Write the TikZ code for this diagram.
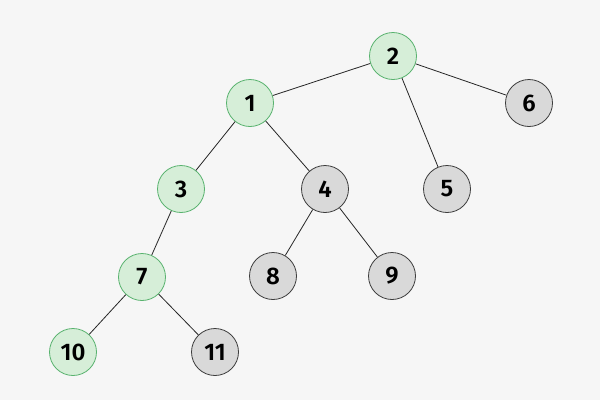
\documentclass[tikz,border=0pt]{standalone}
\usepackage{fontspec}
\setmainfont{Fira Sans}[UprightFont=* SemiBold]
\definecolor{gfill}{RGB}{214,238,216}
\definecolor{gline}{RGB}{88,178,110}
\definecolor{kfill}{RGB}{217,217,217}
\definecolor{kline}{RGB}{60,60,60}
\definecolor{bgc}{RGB}{246,246,246}
\begin{document}
\begin{tikzpicture}[x=1pt,y=-1pt,
  base/.style={circle,minimum size=47pt,inner sep=0pt,line width=0.8pt,font=\fontsize{24}{24}\selectfont},
  gnode/.style={base,draw=gline,fill=gfill},
  knode/.style={base,draw=kline,fill=kfill},
  edge/.style={draw=black!85,line width=0.8pt}]
\fill[bgc] (0,0) rectangle (600,400);
\useasboundingbox (0,0) rectangle (600,400);
\node[gnode] (n2) at (393,56) {2};
\node[knode] (n6) at (529,103) {6};
\node[gnode] (n1) at (250,103) {1};
\node[knode] (n5) at (447,189) {5};
\node[gnode] (n3) at (181,189) {3};
\node[knode] (n4) at (325,189) {4};
\node[gnode] (n7) at (142,277) {7};
\node[knode] (n8) at (273,276) {8};
\node[knode] (n9) at (392,276) {9};
\node[gnode] (n10) at (73,352) {10};
\node[knode] (n11) at (215,352) {11};
\draw[edge] (n2) -- (n1);
\draw[edge] (n2) -- (n6);
\draw[edge] (n2) -- (n5);
\draw[edge] (n1) -- (n3);
\draw[edge] (n1) -- (n4);
\draw[edge] (n3) -- (n7);
\draw[edge] (n4) -- (n8);
\draw[edge] (n4) -- (n9);
\draw[edge] (n7) -- (n10);
\draw[edge] (n7) -- (n11);
\end{tikzpicture}
\end{document}
